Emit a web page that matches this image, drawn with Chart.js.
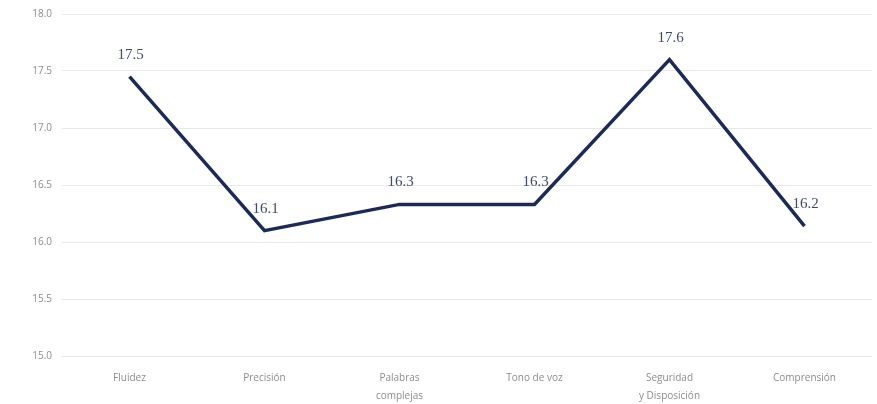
<!DOCTYPE html>
<html>
<head>
<meta charset="utf-8">
<script src="https://cdn.jsdelivr.net/npm/chart.js@4.4.1/dist/chart.umd.min.js"></script>
<style>
html,body{margin:0;padding:0;background:#fff;}
#wrap{width:877px;height:404px;position:relative;}
</style>
</head>
<body>
<div id="wrap"><canvas id="c"></canvas></div>
<script>
const categories = ['Fluidez', 'Precisión', ['Palabras', 'complejas'], 'Tono de voz', ['Seguridad', 'y Disposición'], 'Comprensión'];
const values = [17.45, 16.1, 16.33, 16.33, 17.6, 16.14];
const valueLabels = ['17.5', '16.1', '16.3', '16.3', '17.6', '16.2'];
const yTicks = [15.0, 15.5, 16.0, 16.5, 17.0, 17.5, 18.0];

const labelPlugin = {
  id: 'pointLabels',
  afterDatasetsDraw(chart) {
    const ctx = chart.ctx;
    const meta = chart.getDatasetMeta(0);
    ctx.save();
    ctx.font = '15px "Liberation Serif", "DejaVu Serif", serif';
    ctx.fillStyle = '#3e4a6a';
    ctx.textAlign = 'center';
    ctx.textBaseline = 'middle';
    meta.data.forEach((pt, i) => {
      ctx.fillText(valueLabels[i], pt.x + 1, pt.y - 22);
    });
    ctx.restore();
  }
};

new Chart(document.getElementById('c'), {
  type: 'line',
  data: {
    labels: categories,
    datasets: [{
      data: values,
      borderColor: '#1b2a57',
      borderWidth: 3.5,
      pointRadius: 0,
      tension: 0,
      fill: false
    }]
  },
  options: {
    responsive: true,
    maintainAspectRatio: false,
    animation: false,
    layout: { padding: { top: 0, right: 5, left: 0, bottom: 0 } },
    plugins: { legend: { display: false }, tooltip: { enabled: false } },
    scales: {
      x: {
        offset: true,
        afterFit(scale) { scale.height = 48; },
        grid: { display: false, drawTicks: false },
        border: { display: false },
        ticks: {
          color: '#8c8c8c',
          font: { family: 'Open Sans, sans-serif', size: 10, lineHeight: '18px' },
          padding: 13,
          maxRotation: 0,
          autoSkip: false
        }
      },
      y: {
        min: 15,
        max: 18,
        afterBuildTicks(scale) { scale.ticks = yTicks.map(v => ({ value: v })); },
        afterFit(scale) { scale.width = 62; scale.paddingTop = 14; scale.paddingBottom = 0; },
        grid: { color: '#e9e9e9', lineWidth: 1, drawTicks: false },
        border: { display: false },
        ticks: {
          color: '#8c8c8c',
          font: { family: 'Open Sans, sans-serif', size: 10 },
          padding: 10,
          callback: v => Number(v).toFixed(1)
        }
      }
    }
  },
  plugins: [labelPlugin]
});
</script>
</body>
</html>
